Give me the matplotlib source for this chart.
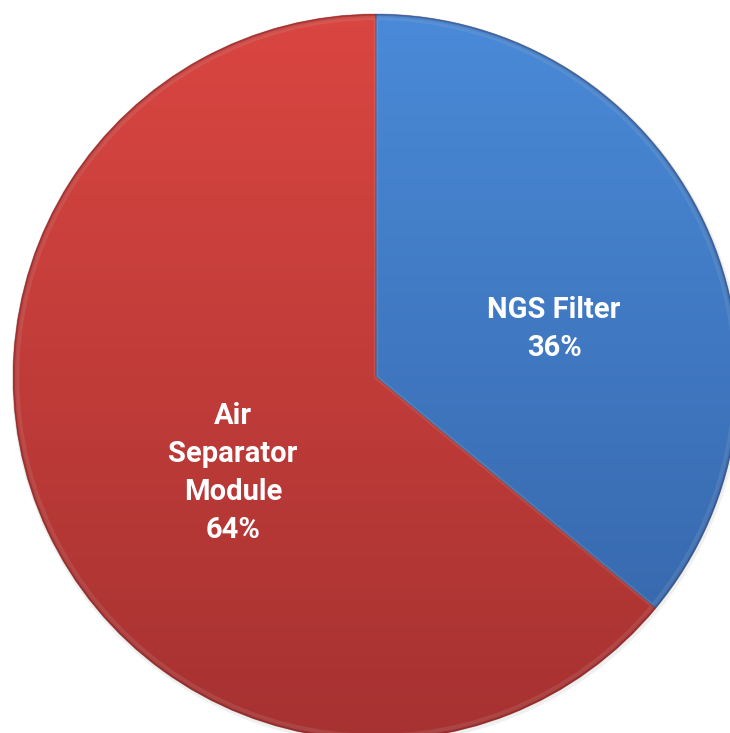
import numpy as np
import matplotlib.pyplot as plt
from matplotlib.colors import LinearSegmentedColormap
from matplotlib.patches import Circle, Wedge

labels = ["NGS Filter", "Air\nSeparator\nModule"]
shares = [36, 64]
top_colors = ["#4a8ad8", "#da4641"]
bottom_colors = ["#3463a6", "#a63231"]
rim_colors = ["#2c5690", "#8e2a29"]

W, H = 730, 733
cx, cy, R = 376, H - 377, 363

fig = plt.figure(figsize=(W / 100, H / 100), dpi=100)
ax = fig.add_axes([0, 0, 1, 1])

# faint shadow behind the pie
ax.add_patch(Circle((cx + 1, cy - 2), R + 2, color="black", alpha=0.06, lw=0, zorder=0))

wedges, _ = ax.pie(shares, startangle=90, counterclock=False, center=(cx, cy),
                   radius=R, frame=True,
                   wedgeprops=dict(linewidth=0, facecolor="none"))
ax.set_xlim(0, W)
ax.set_ylim(0, H)
ax.set_aspect("equal")
ax.axis("off")

grad = np.linspace(1, 0, 256).reshape(-1, 1)
extent = (cx - R, cx + R, cy - R, cy + R)
for w, c0, c1, cr in zip(wedges, top_colors, bottom_colors, rim_colors):
    cmap = LinearSegmentedColormap.from_list("g", [c1, c0])
    im = ax.imshow(grad, cmap=cmap, extent=extent, aspect="auto", zorder=1,
                   origin="upper", vmin=0, vmax=1)
    im.set_clip_path(w)
    # darker rim for a bevelled look
    for k, a in enumerate([0.35, 0.2, 0.1]):
        ax.add_patch(Wedge((cx, cy), R, w.theta1, w.theta2, width=1.5 + 2 * k,
                           color=cr, alpha=a, lw=0, zorder=2))
    # light inner highlight along the wedge edges
    edge = Wedge((cx, cy), R - 4, w.theta1, w.theta2, fill=False,
                 edgecolor="white", alpha=0.10, lw=3, zorder=2)
    edge.set_clip_path(w)
    ax.add_patch(edge)

# dark seam between the two slices
for w in wedges:
    ax.add_patch(Wedge((cx, cy), R, w.theta1, w.theta2, fill=False,
                       edgecolor="#5a2020", alpha=0.25, lw=0.8, zorder=3))

text_pos = [(554, H - 329), (233, H - 473)]
for lab, val, (tx, ty) in zip(labels, shares, text_pos):
    ax.text(tx, ty, f"{lab}\n{val}%", ha="center", va="center", color="white",
            fontsize=21, fontweight="bold", family=["Roboto", "DejaVu Sans"],
            linespacing=1.45, zorder=5)

fig.savefig("out.png", dpi=100)
